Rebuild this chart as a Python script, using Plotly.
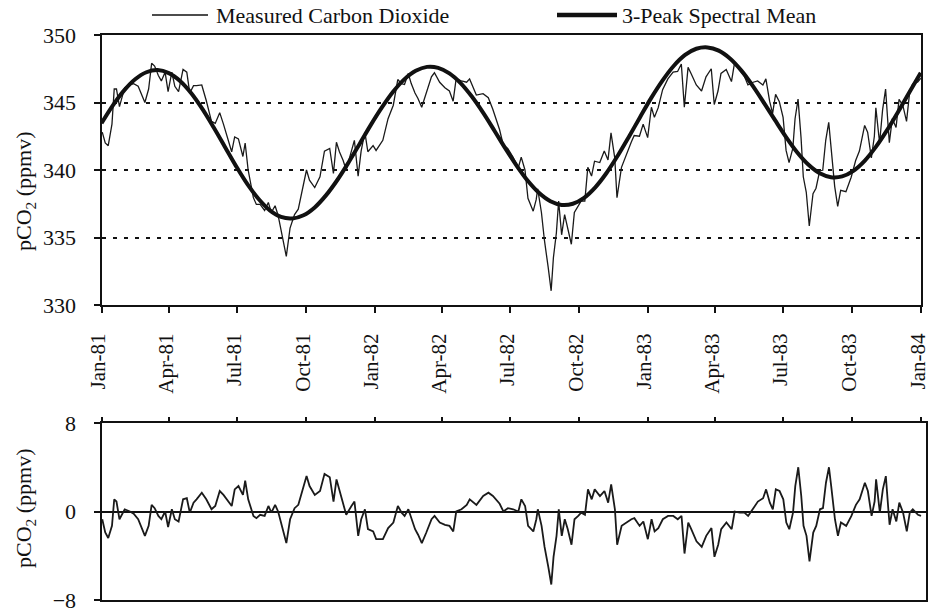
import pandas as pd
import plotly.graph_objects as go

# ---------------- data ----------------
START = "1981-01-01"

# observation times, days since 1 Jan 1981
obs_days = [
    1, 5, 9, 14, 17, 20, 24, 27, 31, 38,
    43, 49, 58, 63, 67, 71, 76, 80, 85, 89,
    94, 98, 103, 109, 114, 118, 123, 127, 134, 140,
    147, 152, 158, 163, 167, 174, 178, 183, 189, 192,
    196, 203, 207, 212, 218, 223, 227, 232, 236, 241,
    245, 247, 252, 258, 263, 270, 274, 278, 285, 292,
    298, 305, 310, 314, 318, 323, 327, 334, 338, 343,
    347, 352, 356, 363, 367, 376, 383, 390, 396, 401,
    405, 410, 414, 419, 423, 428, 434, 441, 445, 452,
    459, 465, 470, 474, 481, 488, 492, 501, 510, 517,
    523, 532, 537, 543, 550, 557, 561, 566, 570, 577,
    581, 583, 588, 592, 597, 601, 604, 608, 611, 615,
    619, 623, 628, 632, 637, 641, 646, 650, 655, 659,
    666, 672, 677, 681, 686, 689, 695, 701, 708, 712,
    719, 724, 730, 735, 739, 744, 750, 757, 764, 770,
    775, 779, 784, 788, 795, 802, 808, 815, 819, 824,
    828, 835, 842, 846, 853, 859, 864, 871, 877, 884,
    888, 893, 897, 901, 906, 911, 915, 919, 924, 927,
    931, 935, 938, 942, 946, 951, 955, 960, 964, 968,
    972, 975, 980, 984, 988, 995, 1002, 1008, 1013, 1020,
    1024, 1029, 1033, 1035, 1040, 1044, 1048, 1051, 1053, 1057,
    1062, 1066, 1071, 1076, 1080, 1084, 1091, 1095,
]

# measured carbon dioxide, ppmv
measured_co2 = [
    342.8, 342.0, 341.8, 343.4, 346.0, 346.0, 344.7, 345.3, 346.1, 346.3,
    346.4, 346.2, 345.0, 346.0, 347.9, 347.7, 347.0, 346.6, 347.25, 345.8,
    347.25, 346.2, 345.8, 347.45, 347.25, 345.7, 346.25, 346.25, 346.3, 345.15,
    343.6, 343.45, 344.25, 343.4, 342.6, 341.35, 342.45, 342.3, 341.0, 342.0,
    340.0, 337.95, 337.45, 337.45, 337.0, 337.6, 336.85, 337.35, 336.65, 335.2,
    334.3, 333.6, 335.7, 336.7, 337.1, 338.95, 340.0, 339.25, 338.7, 339.5,
    341.4, 341.6, 339.75, 342.05, 341.35, 340.7, 340.0, 341.4, 342.2, 339.55,
    341.4, 342.8, 341.35, 341.8, 341.45, 342.2, 343.8, 344.8, 346.7, 346.4,
    346.33, 347.15, 346.4, 345.7, 345.3, 344.65, 345.7, 346.9, 347.2, 346.5,
    346.1, 345.85, 345.1, 346.75, 346.6, 346.5, 346.75, 345.55, 345.65, 345.35,
    344.5, 343.0, 341.85, 341.6, 340.95, 340.15, 340.95, 340.0, 337.9, 336.95,
    337.8, 338.6, 336.85, 334.8, 332.8, 331.05, 333.5, 335.35, 337.7, 335.2,
    336.7, 335.8, 334.5, 336.85, 337.3, 337.7, 337.7, 340.2, 339.55, 340.65,
    340.55, 341.4, 340.75, 342.75, 340.9, 337.95, 340.2, 341.1, 342.05, 342.55,
    342.5, 343.4, 342.4, 344.65, 343.9, 344.6, 345.95, 346.75, 347.25, 347.3,
    347.85, 344.65, 347.6, 347.15, 346.3, 345.85, 346.9, 347.5, 344.85, 345.85,
    347.15, 347.45, 346.55, 347.9, 347.4, 346.98, 346.3, 346.5, 346.6, 346.3,
    346.75, 345.1, 344.2, 345.6, 345.05, 343.9, 341.45, 340.55, 341.6, 343.8,
    345.25, 342.4, 339.5, 338.35, 335.85, 338.25, 338.65, 339.95, 339.98, 342.2,
    343.53, 341.77, 338.77, 337.3, 338.5, 338.4, 339.46, 340.7, 341.4, 343.3,
    342.8, 340.9, 342.5, 344.6, 342.0, 344.45, 345.99, 343.55, 342.03, 343.8,
    343.15, 345.23, 344.8, 343.6, 345.68, 346.35, 346.52, 346.8,
]

# residual (measured minus spectral mean), ppmv
residual_co2 = [
    -0.7, -1.9, -2.4, -1.3, 1.1, 0.9, -0.7, -0.3, 0.2, 0.0,
    -0.2, -0.7, -2.2, -1.3, 0.6, 0.3, -0.4, -0.7, 0.0, -1.4,
    0.2, -0.7, -0.9, 1.1, 1.2, -0.1, 0.8, 1.1, 1.7, 1.1,
    0.2, 0.5, 1.85, 1.5, 1.1, 0.5, 2.0, 2.3, 1.5, 2.8,
    1.1, -0.4, -0.6, -0.3, -0.4, 0.5, -0.1, 0.6, 0.0, -1.3,
    -2.2, -2.85, -0.7, 0.3, 0.6, 2.3, 3.2, 2.3, 1.5, 1.85,
    3.4, 3.1, 0.9, 2.9, 1.85, 0.8, -0.3, 0.5, 0.9, -2.2,
    -0.7, 0.2, -1.6, -1.8, -2.5, -2.5, -1.5, -1.0, 0.5, -0.1,
    -0.4, 0.2, -0.7, -1.6, -2.1, -2.85, -1.9, -0.7, -0.4, -1.0,
    -1.2, -1.3, -1.8, 0.0, 0.2, 0.6, 1.1, 0.6, 1.4, 1.7,
    1.4, 0.7, 0.0, 0.3, 0.2, 0.0, 1.1, 0.5, -1.3, -1.8,
    -0.7, 0.2, -1.3, -3.2, -5.0, -6.6, -4.1, -2.2, 0.2, -2.2,
    -0.7, -1.6, -3.0, -0.7, -0.4, -0.1, -0.3, 2.0, 1.1, 2.0,
    1.4, 1.85, 0.8, 2.45, 0.2, -3.0, -1.3, -1.0, -0.7, -0.6,
    -1.3, -0.9, -2.5, -0.7, -1.8, -1.5, -0.7, -0.4, -0.4, -0.7,
    -0.4, -3.8, -1.0, -1.6, -2.7, -3.2, -2.2, -1.5, -4.1, -3.0,
    -1.6, -1.0, -1.6, 0.0, -0.1, -0.1, -0.4, 0.3, 0.9, 1.2,
    2.0, 0.8, 0.2, 2.0, 1.85, 1.1, -1.0, -1.6, -0.1, 2.3,
    4.0, 1.4, -1.3, -2.2, -4.5, -1.9, -1.3, 0.2, 0.3, 2.6,
    4.0, 2.3, -0.7, -2.2, -1.0, -1.3, -0.4, 0.6, 1.1, 2.6,
    1.85, -0.4, 0.9, 2.9, -0.1, 2.0, 3.2, 0.5, -1.2, 0.2,
    -0.9, 0.8, -0.1, -1.8, -0.1, 0.2, -0.3, -0.4,
]

# 3-peak spectral mean, sampled every 15 days from 1 Jan 1981
mean_days = list(range(0, 1096, 15))
spectral_mean = [
    343.46, 344.77, 345.88, 346.72, 347.24, 347.40, 347.18, 346.60, 345.69, 344.51,
    343.15, 341.71, 340.27, 338.95, 337.85, 337.01, 336.52, 336.41, 336.65, 337.23,
    338.12, 339.24, 340.54, 341.93, 343.34, 344.65, 345.81, 346.73, 347.35, 347.64,
    347.57, 347.16, 346.44, 345.44, 344.25, 342.93, 341.58, 340.31, 339.18, 338.29,
    337.68, 337.41, 337.50, 337.94, 338.72, 339.78, 341.06, 342.47, 343.93, 345.36,
    346.64, 347.72, 348.52, 348.98, 349.08, 348.84, 348.26, 347.38, 346.27, 345.01,
    343.71, 342.44, 341.30, 340.39, 339.76, 339.47, 339.53, 339.94, 340.68, 341.71,
    342.95, 344.33, 345.78, 347.20,
]

series_names = ["Measured Carbon Dioxide", "3-Peak Spectral Mean"]
y_title = "pCO<sub>2</sub> (ppmv)"

# ---------------- figure ----------------
base = pd.Timestamp(START)
x_obs = [base + pd.Timedelta(days=d) for d in obs_days]
x_mean = [base + pd.Timedelta(days=d) for d in mean_days]

W, H = 930, 613
FONT = "Liberation Serif, Times New Roman, serif"
INK = "#111111"


def px(x):
    return x / W


def py(y):
    return 1 - y / H


fig = go.Figure()
fig.add_trace(go.Scatter(x=x_obs, y=measured_co2, mode="lines", name=series_names[0],
                         line=dict(color="#1a1a1a", width=1.3), showlegend=False,
                         xaxis="x", yaxis="y"))
fig.add_trace(go.Scatter(x=x_mean, y=spectral_mean, mode="lines", name=series_names[1],
                         line=dict(color=INK, width=4, shape="spline", smoothing=1.0),
                         showlegend=False, xaxis="x", yaxis="y"))
fig.add_trace(go.Scatter(x=x_obs, y=residual_co2, mode="lines", name="Residual",
                         line=dict(color="#1a1a1a", width=1.8), showlegend=False,
                         xaxis="x2", yaxis="y2"))

axis_common = dict(showline=True, linecolor=INK, mirror=True, ticks="outside",
                   tickcolor=INK, automargin=False,
                   tickfont=dict(family=FONT, size=22, color=INK))

fig.update_layout(
    width=W, height=H,
    margin=dict(l=0, r=0, t=0, b=0, pad=0, autoexpand=False),
    paper_bgcolor="white", plot_bgcolor="white",
    font=dict(family=FONT, size=22, color=INK),
    showlegend=False,
    xaxis=dict(**axis_common, domain=[px(101.5), px(921)], anchor="y",
               type="date", range=[START, "1984-01-01 08:00"], tick0=START, dtick="M3",
               tickformat="%b-%y", tickangle=-90, ticklen=6, tickwidth=1.5,
               linewidth=2, showgrid=False, ticklabelstandoff=12,
               ticklabelshift=-3, ticklabeloverflow="allow", tickfont_size=21),
    yaxis=dict(**axis_common, domain=[py(305), py(35)], anchor="x",
               range=[330, 350], tickmode="linear", tick0=330, dtick=5,
               ticklen=6, tickwidth=1.5, linewidth=2,
               showgrid=True, gridcolor=INK, gridwidth=1.6, griddash="4px,7px",
               zeroline=False, ticklabelstandoff=13),
    xaxis2=dict(**axis_common, domain=[px(101.5), px(925.5)], anchor="y2",
                type="date", range=[START, "1984-01-07"], tick0=START, dtick="M3",
                side="top", ticklen=4, tickwidth=1.5, linewidth=2,
                showticklabels=False, showgrid=False),
    yaxis2=dict(**axis_common, domain=[py(600), py(423)], anchor="x2",
                range=[-8, 8], tickvals=[-8, 0, 8], ticklen=6, tickwidth=1.5,
                linewidth=2, showgrid=False, zeroline=True, zerolinecolor=INK,
                zerolinewidth=1.6, ticklabelstandoff=13),
)

# y-axis titles
for ty in (191, 508):
    fig.add_annotation(x=px(25), y=py(ty), xref="paper", yref="paper", text=y_title,
                       textangle=-90, xanchor="center", yanchor="middle",
                       showarrow=False, font=dict(family=FONT, size=22, color=INK))

# legend drawn at the top
leg_y = py(15)
for (x0, x1, w, tx, name) in [(152, 208, 1.5, 214, series_names[0]),
                              (557, 617, 4.5, 620, series_names[1])]:
    fig.add_shape(type="line", xref="paper", yref="paper", x0=px(x0), x1=px(x1),
                  y0=leg_y, y1=leg_y, line=dict(color=INK, width=w))
    fig.add_annotation(x=px(tx), y=leg_y, xref="paper", yref="paper", text=name,
                       xanchor="left", yanchor="middle", showarrow=False,
                       font=dict(family=FONT, size=22, color=INK))

fig.write_html("out.html")
